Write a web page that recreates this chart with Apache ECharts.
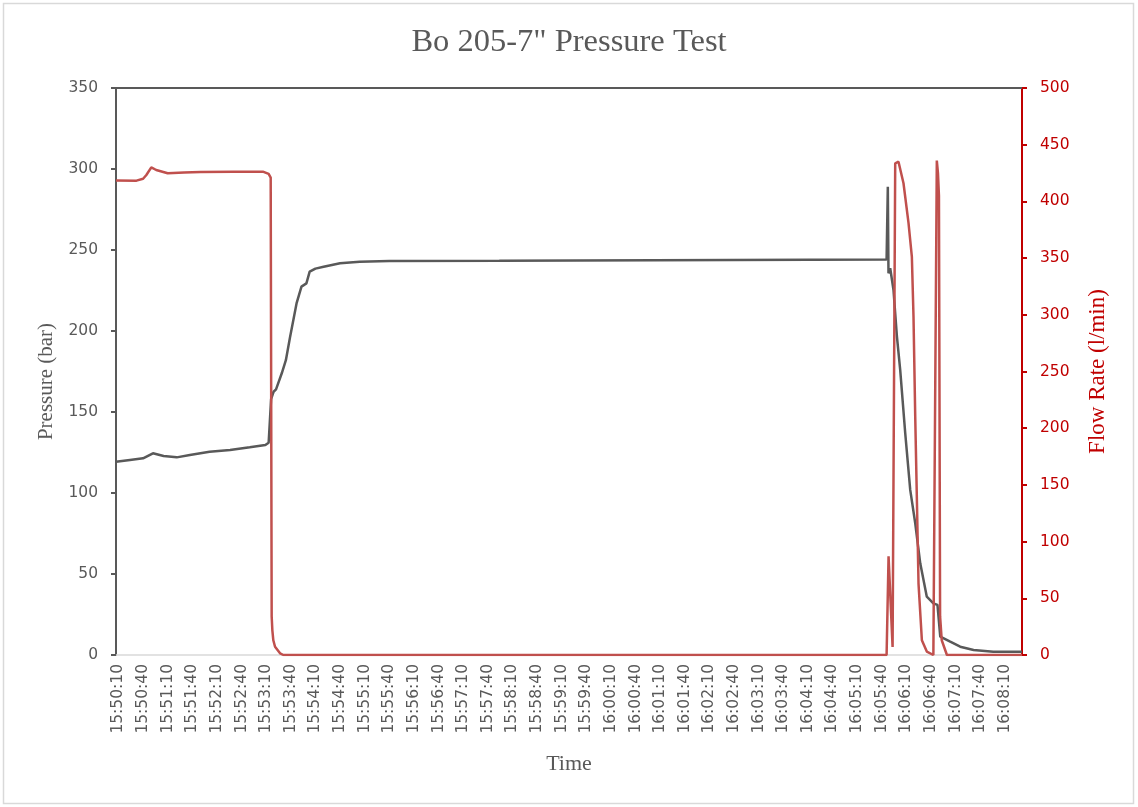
<!DOCTYPE html>
<html>
<head>
<meta charset="utf-8">
<script src="https://cdn.jsdelivr.net/npm/echarts@6/dist/echarts.min.js"></script>
<style>
html,body{margin:0;padding:0;background:#fff;}
#chart{width:1138px;height:807px;}
</style>
</head>
<body>
<div id="chart"></div>
<script>
// time values are seconds after 15:50:10
const tickLabels = ["15:50:10","15:50:40","15:51:10","15:51:40","15:52:10","15:52:40","15:53:10","15:53:40","15:54:10","15:54:40","15:55:10","15:55:40","15:56:10","15:56:40","15:57:10","15:57:40","15:58:10","15:58:40","15:59:10","15:59:40","16:00:10","16:00:40","16:01:10","16:01:40","16:02:10","16:02:40","16:03:10","16:03:40","16:04:10","16:04:40","16:05:10","16:05:40","16:06:10","16:06:40","16:07:10","16:07:40","16:08:10"];
const tickSeconds = [0,30,60,90,120,150,180,210,240,270,300,330,360,390,420,450,480,510,540,570,600,630,660,690,720,750,780,810,840,870,900,930,960,990,1020,1050,1080];

const pressureTime = [-3,14,30,42,55,71,87,111,136,160,179,183,186,189,192,199,204,209,217,223,229,233,240,250,270,294,330,464,466,936,937.5,938.3,940.4,942.5,944.4,948.6,952.6,958.7,964.8,970.9,977,985,993,998,1001.4,1013.5,1025.7,1042,1066,1101];
const pressureBar = [119.3,120.4,121.4,124.5,122.8,122,123.5,125.5,126.5,128.2,129.6,131,158,162.5,164,173.9,182,196,217,227.4,229.4,236.6,238.5,239.7,241.8,242.8,243.2,243.3,244.2,244.2,289,235.6,238.7,237.6,225.3,196.5,175.9,136.9,101.9,81.3,56.6,36,31.9,30.9,11.3,8.2,5.1,3.1,2,2];

const flowTime = [-3,22,30,34,40,46,60,80,100,140,176,183,185.5,186.7,187.5,188.7,190.8,196.9,201,936,938.4,943.3,946.5,950.5,956.6,962.7,966.8,968.8,970.9,973,974.9,979,985,993,995.3,997.2,998.6,999.8,1001.2,1003.2,1009.5,1101];
const flowRate = [418.5,418.3,420,423.3,430,427.7,424.8,425.5,426,426.2,426.2,424.2,421,34,22,13,7.3,1.5,0,0,87,7,433.6,435,416,381,351,298,210,134,63,13,3,0,0,436,425,405,34,13,0,0];

const pressureData = pressureTime.map((t,i)=>[t,pressureBar[i]]);
const flowData = flowTime.map((t,i)=>[t,flowRate[i]]);

const gray = '#595959';
const red = '#C00000';
const serif = '"Liberation Serif", "DejaVu Serif", serif';
const sans = '"DejaVu Sans", sans-serif';

const chart = echarts.init(document.getElementById('chart'), null, {renderer:'canvas'});
chart.setOption({
  animation:false,
  backgroundColor:'#fff',
  title:{
    text:'Bo 205-7" Pressure Test',
    left:'center', top:21,
    textStyle:{fontFamily:serif,fontSize:32.5,fontWeight:'normal',color:gray}
  },
  graphic:[{type:'rect',shape:{x:3.5,y:3.5,width:1130,height:800},style:{fill:'none',stroke:'#D9D9D9',lineWidth:1.5},silent:true}],
  grid:{left:116,right:116,top:88,bottom:152,containLabel:false},
  xAxis:[{
    type:'value', min:-3, max:1101,
    name:'Time', nameLocation:'middle', nameGap:98,
    nameTextStyle:{fontFamily:serif,fontSize:22,color:gray},
    axisLine:{show:true,onZero:false,lineStyle:{color:'#D9D9D9',width:1.5}},
    axisTick:{show:false},
    splitLine:{show:false},
    axisLabel:{
      customValues:tickSeconds,
      rotate:90, margin:9,
      fontFamily:sans, fontSize:15.5, color:gray,
      formatter:function(v){const i=tickSeconds.indexOf(Math.round(v));return i>=0?tickLabels[i]:'';}
    }
  },{
    type:'value', min:-3, max:1101, position:'top',
    axisLine:{show:true,onZero:false,lineStyle:{color:gray,width:2}},
    axisTick:{show:false}, axisLabel:{show:false}, splitLine:{show:false}
  }],
  yAxis:[{
    type:'value', min:0, max:350, interval:50, position:'left',
    name:'Pressure (bar)', nameLocation:'middle', nameGap:59,
    nameTextStyle:{fontFamily:serif,fontSize:21,color:gray,padding:[0,20,0,0]},
    axisLine:{show:true,onZero:false,lineStyle:{color:gray,width:2}},
    axisTick:{show:true,length:5,lineStyle:{color:gray,width:2}},
    axisLabel:{fontFamily:sans,fontSize:15.5,color:gray,margin:18},
    splitLine:{show:false}
  },{
    type:'value', min:0, max:500, interval:50, position:'right',
    name:'Flow Rate (l/min)', nameLocation:'middle', nameGap:64,
    nameTextStyle:{fontFamily:serif,fontSize:23,color:red},
    axisLine:{show:true,onZero:false,lineStyle:{color:red,width:2}},
    axisTick:{show:true,length:5,lineStyle:{color:red,width:2}},
    axisLabel:{fontFamily:sans,fontSize:15.5,color:red,margin:18},
    splitLine:{show:false}
  }],
  series:[{
    name:'Pressure', type:'line', xAxisIndex:0, yAxisIndex:0,
    data:pressureData, showSymbol:false, symbol:'none',
    lineStyle:{color:gray,width:2.5}, itemStyle:{color:gray}, z:2
  },{
    name:'Flow Rate', type:'line', xAxisIndex:0, yAxisIndex:1,
    data:flowData, showSymbol:false, symbol:'none',
    lineStyle:{color:'#C0504D',width:2.5}, itemStyle:{color:'#C0504D'}, z:3
  }]
});
</script>
</body>
</html>
